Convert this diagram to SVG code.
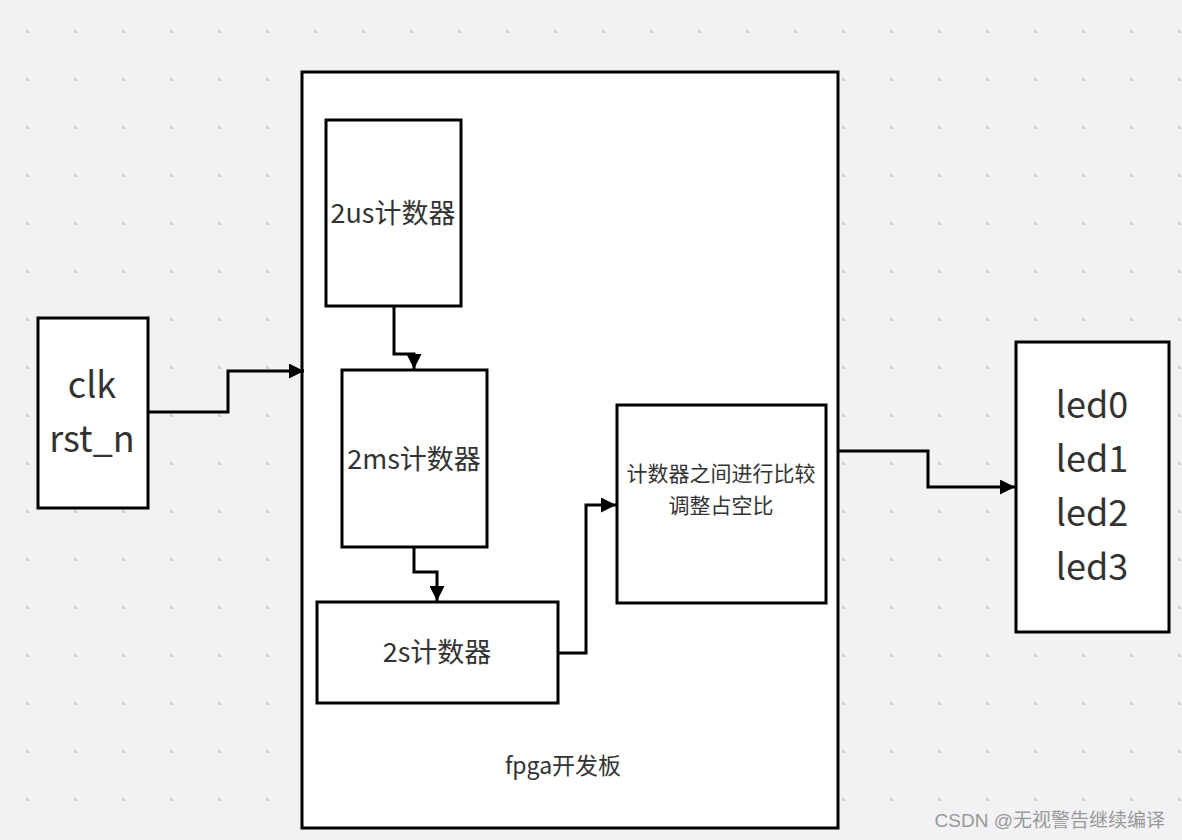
<svg xmlns="http://www.w3.org/2000/svg" width="1182" height="840" viewBox="0 0 1182 840">
<defs>
<pattern id="dots" x="0" y="0" width="48" height="48" patternUnits="userSpaceOnUse">
<rect x="26" y="30" width="3" height="3" fill="#d0d0d2"/>
</pattern>
<marker id="arr" viewBox="0 0 10 10" refX="10" refY="5" markerWidth="5" markerHeight="5" orient="auto" markerUnits="strokeWidth">
<path d="M0,0 L10,5 L0,10 Z" fill="#000"/>
</marker>
<style>
.box{fill:#fff;stroke:#000;stroke-width:3}
.t{font-family:"Noto Sans CJK SC","Noto Sans",sans-serif;fill:#333;text-anchor:middle}
.big{font-size:36px}
.mid{font-size:27px}
.sm{font-size:21px}
.c{fill:none;stroke:#000;stroke-width:3;marker-end:url(#arr)}
</style>
</defs>
<rect width="1182" height="840" fill="#f2f2f4"/>
<rect width="1182" height="840" fill="url(#dots)"/>
<g id="fpga">
<rect class="box" x="302" y="72" width="536" height="756"/>
<text class="t" x="563" y="774" font-size="23">fpga开发板</text>
</g>
<g id="clk">
<rect class="box" x="38" y="318" width="110" height="190"/>
<text class="t big" x="92" y="398">clk</text>
<text class="t big" x="92" y="452">rst_n</text>
</g>
<g id="c2us">
<rect class="box" x="326" y="120" width="135" height="186"/>
<text class="t mid" x="393" y="223">2us计数器</text>
</g>
<g id="c2ms">
<rect class="box" x="342" y="370" width="145" height="177"/>
<text class="t mid" x="414" y="469">2ms计数器</text>
</g>
<g id="c2s">
<rect class="box" x="317" y="602" width="241" height="101"/>
<text class="t mid" x="437" y="662">2s计数器</text>
</g>
<g id="cmp">
<rect class="box" x="617" y="405" width="209" height="198"/>
<text class="t sm" x="721" y="481">计数器之间进行比较</text>
<text class="t sm" x="721" y="513">调整占空比</text>
</g>
<g id="led">
<rect class="box" x="1016" y="342" width="153" height="290"/>
<text class="t big" x="1092" y="418">led0</text>
<text class="t big" x="1092" y="472">led1</text>
<text class="t big" x="1092" y="526">led2</text>
<text class="t big" x="1092" y="580">led3</text>
</g>
<g id="connectors">
<path class="c" d="M148,412 H228 V371 H304"/>
<path class="c" d="M394,306 V354 H414 V369"/>
<path class="c" d="M414,547 V572 H437 V601"/>
<path class="c" d="M558,653 H586 V505 H616"/>
<path class="c" d="M838,451 H928 V487 H1015"/>
</g>
<text x="1165" y="827" font-family="'Liberation Sans','Noto Sans CJK SC',sans-serif" font-size="19" fill="#999" text-anchor="end">CSDN @无视警告继续编译</text>
</svg>
